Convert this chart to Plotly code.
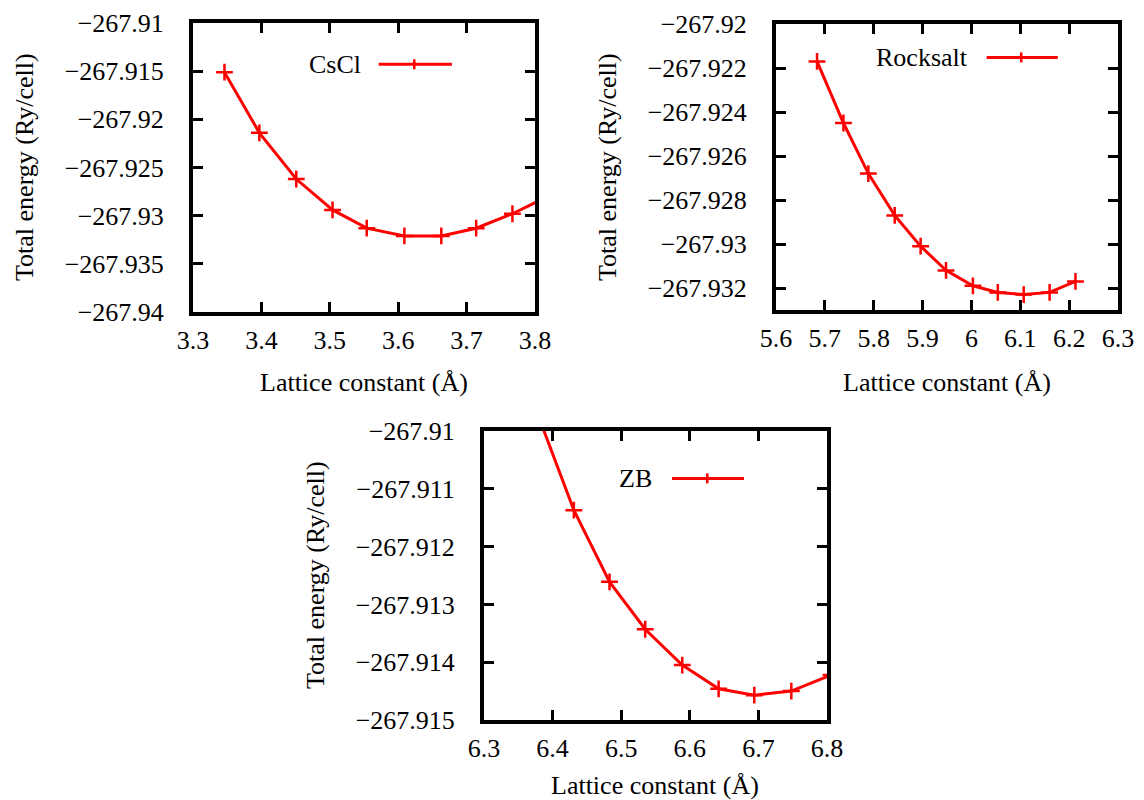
import plotly.graph_objects as go

# Total energy vs lattice constant for three NaCl-type structures
cscl_a = [3.346, 3.397, 3.451, 3.504, 3.554, 3.609, 3.663, 3.714, 3.767, 3.819]
cscl_e = [-267.9151, -267.9214, -267.9262, -267.9294, -267.9313, -267.9321,
          -267.9321, -267.9313, -267.9298, -267.9280]

rocksalt_a = [5.684, 5.738, 5.789, 5.843, 5.896, 5.948, 6.003, 6.054, 6.107, 6.160, 6.213]
rocksalt_e = [-267.9217, -267.9245, -267.9268, -267.9287, -267.9301, -267.9312,
              -267.9319, -267.9322, -267.9323, -267.9322, -267.9317]

zb_a = [6.378, 6.431, 6.483, 6.535, 6.589, 6.642, 6.694, 6.748, 6.806]
zb_e = [-267.9097, -267.91137, -267.91261, -267.91343, -267.91405, -267.91446,
        -267.91457, -267.91450, -267.91422]

# Tick values
cscl_xticks = [3.3, 3.4, 3.5, 3.6, 3.7, 3.8]
cscl_yticks = [-267.94, -267.935, -267.93, -267.925, -267.92, -267.915, -267.91]
rocksalt_xticks = [5.6, 5.7, 5.8, 5.9, 6.0, 6.1, 6.2, 6.3]
rocksalt_yticks = [-267.932, -267.93, -267.928, -267.926, -267.924, -267.922, -267.92]
zb_xticks = [6.3, 6.4, 6.5, 6.6, 6.7, 6.8]
zb_yticks = [-267.915, -267.914, -267.913, -267.912, -267.911, -267.91]

W, H = 1144, 800
FONT = "Liberation Serif, Times New Roman, Times, serif"
FS = 26
RED = "#ff0000"


def label(v, nd):
    s = f"{v:.{nd}f}".rstrip("0").rstrip(".")
    return s.replace("-", "\u2212")


def px_x(p):
    return p / W


def px_y(p):
    return 1 - p / H


panels = [
    # name, a, e, domain px (l, r, t, b), xrange, yrange, xticks, yticks, key pos
    ("CsCl", cscl_a, cscl_e, (193, 535, 23, 312), [3.3, 3.8], [-267.94, -267.91],
     cscl_xticks, cscl_yticks, (0.497, 0.543, 0.757, 0.647, 0.857)),
    ("Rocksalt", rocksalt_a, rocksalt_e, (776, 1118, 24, 310), [5.6, 6.3], [-267.933, -267.92],
     rocksalt_xticks, rocksalt_yticks, (0.566, 0.616, 0.824, 0.717, 0.883)),
    ("ZB", zb_a, zb_e, (484, 827, 431, 720), [6.3, 6.8], [-267.915, -267.91],
     zb_xticks, zb_yticks, (0.496, 0.548, 0.758, 0.651, 0.836)),
]

fig = go.Figure()
layout = dict(
    width=W, height=H,
    margin=dict(l=0, r=0, t=0, b=0),
    paper_bgcolor="white", plot_bgcolor="white",
    showlegend=False,
    font=dict(family=FONT, size=FS, color="black"),
)
annotations = []
shapes = []

title_pos = [
    ((364, 382), (24, 167)),
    ((947, 382), (607, 167)),
    ((655, 785), (315, 575)),
]

for i, (name, a, e, (l, r, t, b), xr, yr, xt, yt, key) in enumerate(panels):
    n = "" if i == 0 else str(i + 1)
    xa, ya = "x" + n, "y" + n
    fig.add_trace(go.Scatter(
        x=a, y=e, mode="lines+markers", name=name,
        xaxis=xa, yaxis=ya,
        line=dict(color=RED, width=3),
        marker=dict(symbol="cross-thin", size=12, color=RED,
                    line=dict(color=RED, width=2.5)),
    ))
    common = dict(
        showgrid=False, zeroline=False, showline=True, linewidth=4,
        linecolor="black", mirror="ticks", ticks="inside", ticklen=10,
        tickwidth=3, tickcolor="black", tickmode="array", automargin=False,
        tickfont=dict(family=FONT, size=FS, color="black"),
    )
    layout["xaxis" + n] = dict(
        common, domain=[px_x(l), px_x(r)], range=xr, anchor=ya,
        tickvals=xt, ticktext=[label(v, 1) for v in xt], ticklabelstandoff=2,
    )
    layout["yaxis" + n] = dict(
        common, domain=[px_y(b), px_y(t)], range=yr, anchor=xa,
        tickvals=yt, ticktext=[label(v, 3) for v in yt], ticklabelstandoff=20,
    )

    # key: label on the left, line sample with a cross on the right
    tx, lx0, lx1, cx, ky = key
    dx, dy = xa + " domain", ya + " domain"
    annotations.append(dict(
        text=name, xref=dx, yref=dy, x=tx, y=ky, xanchor="right",
        yanchor="middle", showarrow=False, font=dict(family=FONT, size=FS),
    ))
    shapes.append(dict(type="line", xref=dx, yref=dy, x0=lx0, x1=lx1, y0=ky, y1=ky,
                       line=dict(color=RED, width=3)))
    shapes.append(dict(type="line", xref=dx, yref=dy, x0=cx, x1=cx,
                       ysizemode="pixel", yanchor=ky, y0=-5, y1=5,
                       line=dict(color=RED, width=2.5)))

    (xtx, xty), (ytx, yty) = title_pos[i]
    annotations.append(dict(
        text="Lattice constant (Å)", xref="paper", yref="paper",
        x=px_x(xtx), y=px_y(xty), xanchor="center", yanchor="middle",
        showarrow=False, font=dict(family=FONT, size=FS),
    ))
    annotations.append(dict(
        text="Total energy (Ry/cell)", xref="paper", yref="paper",
        x=px_x(ytx), y=px_y(yty), xanchor="center", yanchor="middle",
        textangle=-90, showarrow=False, font=dict(family=FONT, size=FS),
    ))

layout["annotations"] = annotations
layout["shapes"] = shapes
fig.update_layout(**layout)
fig.write_html("out.html")
